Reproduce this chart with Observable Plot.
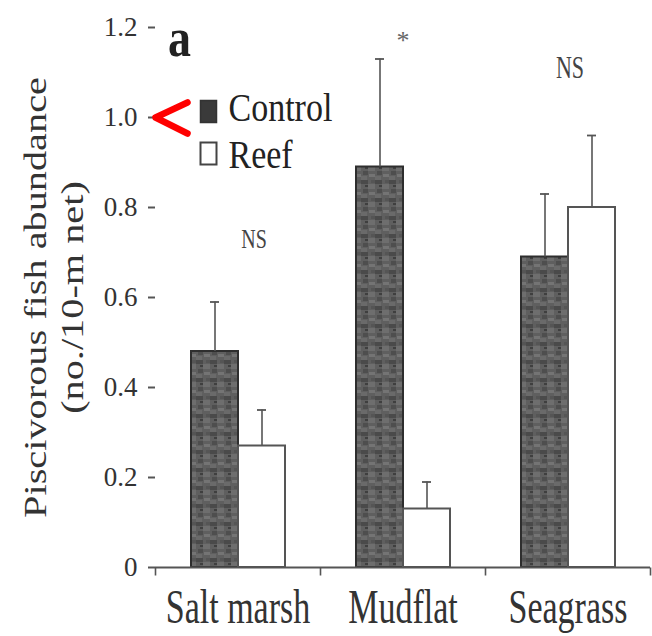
<!DOCTYPE html>
<html><head><meta charset="utf-8">
<script src="https://cdn.jsdelivr.net/npm/d3@7"></script>
<script src="https://cdn.jsdelivr.net/npm/@observablehq/plot@0.6"></script>
<style>
html,body{margin:0;padding:0;background:#fff;}
#chart{position:relative;width:652px;height:636px;}
</style></head><body>
<svg width="0" height="0" style="position:absolute">
<defs>
<pattern id="tex" patternUnits="userSpaceOnUse" width="14" height="18">
<rect width="14" height="18" fill="#5f5f5f"/>
<rect x="0" y="0" width="7" height="4" fill="#4a4a4a"/>
<rect x="7" y="4" width="7" height="5" fill="#6e6e6e"/>
<rect x="2" y="9" width="5" height="4" fill="#4e4e4e"/>
<rect x="8" y="12" width="6" height="3" fill="#747474"/>
<rect x="0" y="14" width="6" height="4" fill="#6a6a6a"/>
<rect x="10" y="0" width="4" height="3" fill="#555555"/>
<rect x="4" y="5" width="3" height="2" fill="#3f3f3f"/>
</pattern>
</defs>
</svg>
<div id="chart"></div>
<script>
const sites = ["Salt marsh", "Mudflat", "Seagrass"];
const groups = ["Control", "Reef"];
const controlMean = [0.48, 0.89, 0.69];
const controlUpper = [0.59, 1.13, 0.83];
const reefMean = [0.27, 0.13, 0.80];
const reefUpper = [0.35, 0.19, 0.96];
const sigLabels = ["NS", "*", "NS"];
const sigY = [0.73, 1.17, 1.11];
const yTicks = [0, 0.2, 0.4, 0.6, 0.8, 1.0, 1.2];
const yTickLabels = ["0", "0.2", "0.4", "0.6", "0.8", "1.0", "1.2"];
const highlight = [1.0];
const panelLabel = ["a"];
const yTitle = ["Piscivorous fish abundance\n(no./10-m net)"];

const rows = sites.flatMap((s, i) => [
  {site: s, group: groups[0], mean: controlMean[i], upper: controlUpper[i]},
  {site: s, group: groups[1], mean: reefMean[i], upper: reefUpper[i]}
]);
const sig = sites.map((s, i) => ({site: s, label: sigLabels[i], y: sigY[i]}));

const serif = "'Liberation Serif', 'Times New Roman', serif";
const tickSym = {draw(ctx) { ctx.moveTo(0, 0); ctx.lineTo(0, 8); }};
const chevron = {draw(ctx) { ctx.moveTo(32, -15); ctx.lineTo(0, 0); ctx.lineTo(32, 16); }};
const legendBox = {draw(ctx) { ctx.rect(-8, -11, 16, 22); }};
const first = () => sites[0];

const plot = Plot.plot({
  width: 652, height: 636,
  marginLeft: 155, marginRight: 2, marginTop: 27, marginBottom: 69,
  style: {fontFamily: serif, background: "#fff", color: "#333"},
  fx: {domain: sites, padding: 0, label: null},
  x: {domain: groups, paddingInner: 0, paddingOuter: 0.75, axis: null},
  y: {domain: [0, 1.2]},
  marks: [
    Plot.barY(rows.filter(d => d.group === groups[0]), {fx: "site", x: "group", y: "mean", fill: "url(#tex)", stroke: "#2e2e2e", strokeWidth: 2}),
    Plot.barY(rows.filter(d => d.group === groups[1]), {fx: "site", x: "group", y: "mean", fill: "#fff", stroke: "#555", strokeWidth: 2}),
    Plot.ruleX(rows, {fx: "site", x: "group", y1: "mean", y2: "upper", stroke: "#555", strokeWidth: 1.6}),
    Plot.tickY(rows, {fx: "site", x: "group", y: "upper", stroke: "#555", strokeWidth: 1.8, insetLeft: 19, insetRight: 19}),
    Plot.ruleY([0], {stroke: "#555", strokeWidth: 2}),
    Plot.dot(sites, {fx: d => d, frameAnchor: "bottom-left", symbol: tickSym, stroke: "#555", strokeWidth: 1.6, fill: "none"}),
    Plot.dot([sites[2]], {fx: d => d, frameAnchor: "bottom-right", symbol: tickSym, stroke: "#555", strokeWidth: 1.6, fill: "none"}),
    Plot.axisY({ticks: yTicks, tickFormat: d => yTickLabels[yTicks.indexOf(d)], tickSize: 7, tickPadding: 11, fontSize: 27, line: true, label: null, strokeWidth: 2, stroke: "#555"}),
    Plot.axisFx({anchor: "bottom", tickSize: 0, tickPadding: 22, fontSize: 34, label: null}),
    Plot.text(sig.filter(d => d.site === sites[0]), {fx: "site", y: "y", text: "label", frameAnchor: "middle", dx: 16, fontSize: 20, fill: "#444"}),
    Plot.text(sig.filter(d => d.site === sites[1]), {fx: "site", y: "y", text: "label", frameAnchor: "middle", dx: 0, fontSize: 26, fill: "#666"}),
    Plot.text(sig.filter(d => d.site === sites[2]), {fx: "site", y: "y", text: "label", frameAnchor: "middle", dx: 2, fontSize: 22, fill: "#444"}),
    Plot.text(panelLabel, {fx: first, frameAnchor: "top-left", dx: 24, dy: 11, fontSize: 46, fontWeight: "bold", fill: "#222", textAnchor: "middle", lineAnchor: "middle"}),
    Plot.dot([groups[0]], {fx: first, frameAnchor: "top-left", dx: 53, dy: 84, symbol: legendBox, fill: "#3a3a3a", stroke: "#333", strokeWidth: 1.5}),
    Plot.dot([groups[1]], {fx: first, frameAnchor: "top-left", dx: 53, dy: 126, symbol: legendBox, fill: "#fff", stroke: "#444", strokeWidth: 2}),
    Plot.text([groups[0]], {fx: first, frameAnchor: "top-left", dx: 73, dy: 81, fontSize: 34, fill: "#222", textAnchor: "start", lineAnchor: "middle"}),
    Plot.text([groups[1]], {fx: first, frameAnchor: "top-left", dx: 73, dy: 128, fontSize: 34, fill: "#222", textAnchor: "start", lineAnchor: "middle"}),
    Plot.text(yTitle, {fx: first, frameAnchor: "left", dx: -103, rotate: -90, fontSize: 31, lineHeight: 1.19, fill: "#333", textAnchor: "middle", lineAnchor: "middle"}),
    Plot.dot(highlight, {fx: first, y: d => d, frameAnchor: "left", symbol: chevron, stroke: "#f00", strokeWidth: 6.5, fill: "none", strokeLinecap: "round", strokeLinejoin: "round"})
  ]
});

function stretch(node, sx, sy) {
  const t = node.getAttribute("transform") || "";
  node.setAttribute("transform", t + ` scale(${sx},${sy})`);
}
d3.select(plot).selectAll("text").each(function() {
  const s = this.textContent;
  if (sites.includes(s)) stretch(this, 1, 1.4);
  else if (groups.includes(s)) stretch(this, 1, 1.15);
  else if (s.startsWith("Piscivorous")) stretch(this, 1.3, 1);
  else if (s === "NS") stretch(this, 1, 1.4);
  else if (s === "a") stretch(this, 1, 1.2);
});
document.getElementById("chart").appendChild(plot);
</script>
</body></html>
